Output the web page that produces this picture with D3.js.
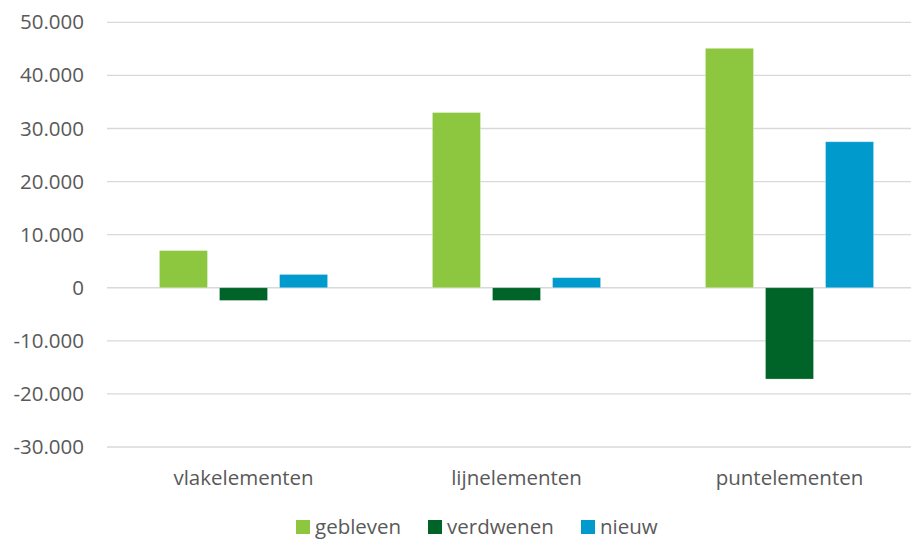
<!DOCTYPE html>
<html><head><meta charset="utf-8">
<script src="https://cdn.jsdelivr.net/npm/d3@7"></script>
<style>body{margin:0;background:#fff}svg{display:block}text{font-family:"Open Sans",sans-serif;fill:#595959}</style>
</head><body><svg id="c" width="911" height="540"></svg>
<script>
const categories = ["vlakelementen", "lijnelementen", "puntelementen"];
const seriesNames = ["gebleven", "verdwenen", "nieuw"];
const gebleven = [7000, 33000, 45100];
const verdwenen = [-2400, -2400, -17200];
const nieuw = [2500, 1900, 27500];
const yTicks = [-30000, -20000, -10000, 0, 10000, 20000, 30000, 40000, 50000];
const colors = ["#8dc63f", "#006428", "#009acd"];

const values = [gebleven, verdwenen, nieuw];
const svg = d3.select("#c");
const x0 = d3.scaleBand().domain(categories).range([107, 926]).paddingInner(0.34).paddingOuter(0.17);
const x1 = d3.scaleBand().domain(seriesNames).range([0, x0.bandwidth()]).paddingInner(0.2).paddingOuter(0.1);
const y = d3.scaleLinear().domain([-30000, 50000]).range([447, 22.3]);
const nl = d3.formatLocale({decimal: ",", thousands: ".", grouping: [3], currency: ["€", ""], minus: "-"});
const fmt = nl.format(",");

const grid = svg.append("g");
grid.selectAll("line").data(yTicks).join("line")
  .attr("x1", 107).attr("x2", 926)
  .attr("y1", d => y(d)).attr("y2", d => y(d))
  .attr("stroke", "#d9d9d9").attr("stroke-width", 1.3);

const yAxis = d3.axisLeft(y).tickValues(yTicks).tickFormat(fmt).tickSize(0).tickPadding(0);
const ya = svg.append("g").attr("transform", "translate(84,0)").call(yAxis);
ya.select(".domain").remove();
ya.selectAll("text").attr("font-size", 20.5).attr("fill", "#595959").attr("font-family", "Open Sans");

const g = svg.append("g");
categories.forEach((c, i) => {
  seriesNames.forEach((s, j) => {
    const v = values[j][i];
    g.append("rect")
      .attr("x", x0(c) + x1(s)).attr("width", x1.bandwidth())
      .attr("y", y(Math.max(0, v))).attr("height", Math.abs(y(v) - y(0)))
      .attr("fill", colors[j]).attr("stroke", "#fff").attr("stroke-opacity", 0.35).attr("stroke-width", 0.8);
  });
});

const xAxis = d3.axisBottom(x0).tickSize(0).tickPadding(0);
const xa = svg.append("g").attr("transform", "translate(0,470)").call(xAxis);
xa.select(".domain").remove();
xa.selectAll("text").attr("font-size", 20.5).attr("fill", "#595959").attr("font-family", "Open Sans").attr("dy", "0.71em");

const legendX = [296, 428, 581];
const lg = svg.append("g");
seriesNames.forEach((s, j) => {
  lg.append("rect").attr("x", legendX[j]).attr("y", 520).attr("width", 14).attr("height", 14).attr("fill", colors[j]);
  lg.append("text").attr("x", legendX[j] + 19).attr("y", 534).attr("font-size", 20.5).text(s);
});
</script></body></html>
